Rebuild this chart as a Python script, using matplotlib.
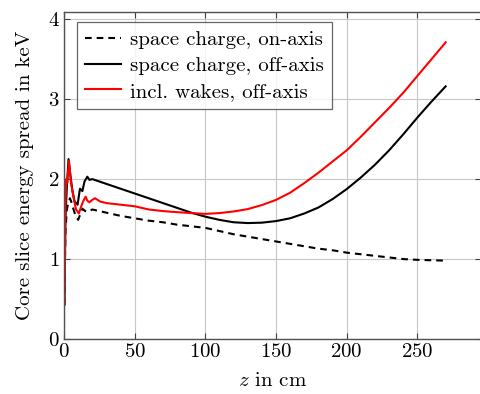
import matplotlib
matplotlib.use("Agg")
import matplotlib.pyplot as plt

plt.rcParams['font.family'] = ['cmr10', 'DejaVu Serif']
plt.rcParams['mathtext.fontset'] = 'cm'
plt.rcParams['axes.formatter.use_mathtext'] = True

# space charge, on-axis
z_on = [0.3, 1.0, 2.0, 3.0, 4.2, 5.5, 6.6, 8.0, 10.0, 11.5, 13.0, 15.0, 17.0, 20,
        30, 40, 50, 60, 70, 80, 90, 100, 110, 120, 130, 140, 150, 160, 170, 180,
        190, 200, 210, 220, 230, 240, 250, 260, 270]
e_on = [0.43, 1.35, 1.62, 1.70, 1.76, 1.70, 1.63, 1.55, 1.49, 1.56, 1.63, 1.60, 1.59, 1.62,
        1.58, 1.54, 1.51, 1.48, 1.46, 1.43, 1.41, 1.39, 1.35, 1.31, 1.28, 1.25, 1.22, 1.19,
        1.16, 1.13, 1.11, 1.08, 1.06, 1.04, 1.02, 1.00, 0.99, 0.985, 0.98]

# space charge, off-axis
z_off = [0.3, 1.0, 2.0, 3.2, 4.5, 6.0, 7.5, 9.6, 11.3, 13.0, 14.5, 16.5, 18.0, 20,
         30, 40, 50, 60, 70, 80, 90, 100, 110, 120, 130, 140, 150, 160, 170, 180,
         190, 200, 210, 220, 230, 240, 250, 260, 270]
e_off = [0.43, 1.50, 1.90, 2.25, 2.05, 1.85, 1.72, 1.68, 1.88, 1.85, 1.97, 2.03, 1.99, 2.00,
         1.94, 1.88, 1.82, 1.76, 1.70, 1.64, 1.58, 1.53, 1.49, 1.46, 1.45, 1.455, 1.475, 1.51,
         1.57, 1.645, 1.75, 1.875, 2.02, 2.18, 2.36, 2.56, 2.77, 2.97, 3.16]

# incl. wakes, off-axis
z_wk = [0.3, 1.0, 1.5, 2.3, 3.5, 5.0, 7.0, 8.5, 10.5, 12.0, 13.5, 15.3, 16.5, 18.0, 20, 22,
        25.5, 30, 40, 50, 60, 70, 77, 90, 100, 110, 120, 130, 140, 150, 160, 170, 180,
        190, 200, 210, 220, 230, 240, 250, 260, 270]
e_wk = [0.43, 1.60, 2.00, 1.95, 2.23, 1.95, 1.75, 1.62, 1.57, 1.65, 1.72, 1.78, 1.73, 1.71,
        1.74, 1.76, 1.72, 1.70, 1.68, 1.66, 1.62, 1.60, 1.59, 1.575, 1.565, 1.575, 1.595, 1.625,
        1.675, 1.74, 1.83, 1.95, 2.08, 2.22, 2.36, 2.53, 2.71, 2.89, 3.08, 3.29, 3.50, 3.71]

labels = ["space charge, on-axis", "space charge, off-axis", "incl. wakes, off-axis"]
xticks = [0, 50, 100, 150, 200, 250]
yticks = [0, 1, 2, 3, 4]

FS = 15

fig = plt.figure(figsize=(4.8, 3.94), dpi=100)
ax = fig.add_axes([64/480, 55/394, (481-64)/480, (339-12)/394])

ax.plot(z_on, e_on, color='black', lw=1.5, ls=(0, (3.2, 2.4)), label=labels[0])
ax.plot(z_off, e_off, color='black', lw=1.5, label=labels[1])
ax.plot(z_wk, e_wk, color='#ff0000', lw=1.5, label=labels[2])

ax.set_xlim(0, 295)
ax.set_ylim(0, 4.09)
ax.set_xticks(xticks)
ax.set_yticks(yticks)
ax.grid(True, color='#c8c8c8', lw=0.8)
ax.set_axisbelow(True)
ax.tick_params(direction='in', length=4, width=0.8, color='#404040',
               top=True, right=True, labelsize=FS, pad=3)
for s in ax.spines.values():
    s.set_color('#505050')
    s.set_linewidth(1.0)

ax.set_xlabel('$z$ in cm', fontsize=FS, labelpad=8)
ax.set_ylabel('Core slice energy spread in keV', fontsize=FS, labelpad=10)

leg = ax.legend(loc='upper left', bbox_to_anchor=(12.5/417, 1 - 10.5/327),
                fontsize=FS, frameon=True, fancybox=False, handlelength=1.75,
                handletextpad=0.4, borderpad=0.4, labelspacing=0.34, borderaxespad=0)
leg.get_frame().set_edgecolor('#404040')
leg.get_frame().set_linewidth(0.9)

fig.savefig('out.png', dpi=100)
